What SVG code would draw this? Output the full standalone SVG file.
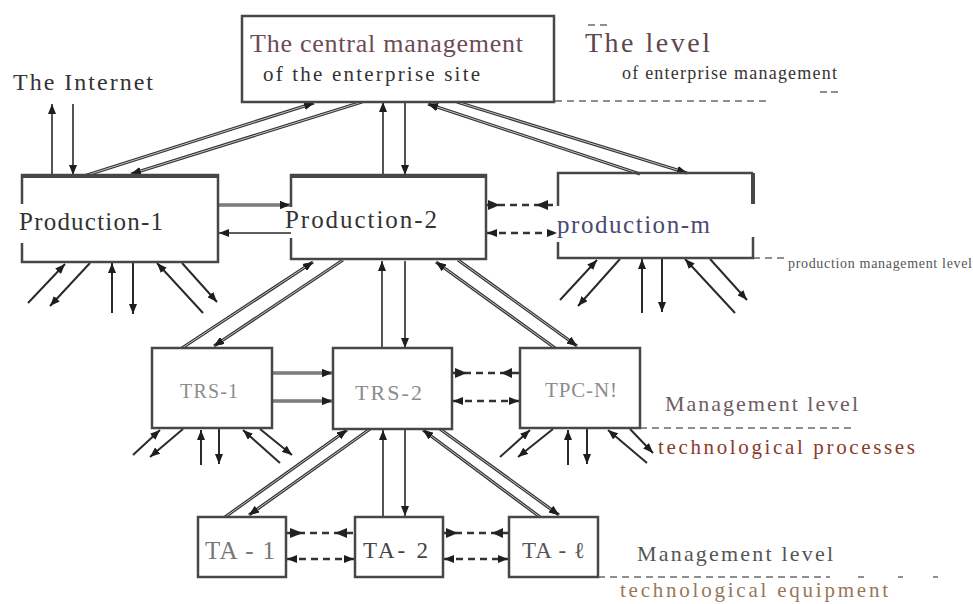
<svg xmlns="http://www.w3.org/2000/svg" width="973" height="604" viewBox="0 0 973 604">
<defs>
<style>
text{font-family:"Liberation Serif","Times New Roman",serif;}
.bg{fill:#fff;stroke:none;}
.bx{fill:none;stroke:#474747;stroke-width:2.5;}
.bxt{fill:none;stroke:#474747;stroke-width:4;}
.band path{fill:none;stroke:#333;stroke-width:3.2;marker-end:url(#ah);}
.bandin path{fill:none;stroke:#d8d8d8;stroke-width:0.9;marker-end:url(#ah);}
.ln path{fill:none;stroke:#2a2a2a;stroke-width:1.6;marker-end:url(#ah);}
.fan path{fill:none;stroke:#2a2a2a;stroke-width:2;marker-end:url(#ah);}
.dl{fill:none;stroke:#333;stroke-width:2.5;stroke-dasharray:7 5;}
.dl2{fill:none;stroke:#333;stroke-width:2.5;stroke-dasharray:7 5;marker-start:url(#ah);marker-end:url(#ah);}
.hd{fill:#222;}
.lv{fill:none;stroke:#8f8f8f;stroke-width:2;stroke-dasharray:7 5;}
</style>
<marker id="ah" viewBox="0 0 10 8" refX="10" refY="4" markerWidth="10" markerHeight="8" orient="auto-start-reverse" markerUnits="userSpaceOnUse"><path d="M0,0L10,4L0,8z" fill="#1e1e1e"/></marker>
</defs>
<rect width="973" height="604" fill="#fff"/>

<g id="levels">
<path class="lv" d="M555,101 L767,101"/>
<path class="lv" d="M588,25 L597,25 M600,25 L608,25"/>
<path class="lv" d="M820,92 L827,92 M831,92 L838,92"/>
<path class="lv" d="M753,258 L786,258"/>
<path class="lv" d="M640,428 L852,428"/>
<path class="lv" d="M598,577 L830,577 M858,577 L864,577 M898,577 L903,577 M933,577 L938,577"/>
<text x="585" y="52" font-size="28" textLength="125" fill="#5e474e">The level</text>
<text x="622" y="79" font-size="18" textLength="215" fill="#333">of enterprise management</text>
<text x="788" y="268" font-size="14" textLength="184" fill="#555">production management level</text>
<text x="665" y="411" font-size="22" textLength="193" fill="#6e5c60">Management level</text>
<text x="658" y="454" font-size="21" textLength="257" fill="#8a3b2a">technological processes</text>
<text x="637" y="561" font-size="22" textLength="196" fill="#555">Management level</text>
<text x="620" y="597" font-size="21" textLength="268" fill="#9a7658">technological equipment</text>
</g>

<g id="internet">
<text x="13" y="90" font-size="24" textLength="140" fill="#333">The Internet</text>
</g>

<g id="connectors">
<g class="band">
<path d="M84,176 L314,103"/>
<path d="M362,102 L131,174"/>
<path d="M640,174 L428,104"/>
<path d="M457,102 L687,173"/>
<path d="M182,348 L313,262"/>
<path d="M343,260 L214,346"/>
<path d="M555,348 L436,262"/>
<path d="M458,260 L577,346"/>
<path d="M225,517 L347,430"/>
<path d="M370,429 L249,515"/>
<path d="M540,517 L423,430"/>
<path d="M440,429 L559,515"/>
<path d="M218,205 L290,205"/>
<path d="M272,373 L332,373"/>
<path d="M272,401 L332,401"/>
</g>
<g class="bandin">
<path d="M84,176 L314,103"/>
<path d="M362,102 L131,174"/>
<path d="M640,174 L428,104"/>
<path d="M457,102 L687,173"/>
<path d="M182,348 L313,262"/>
<path d="M343,260 L214,346"/>
<path d="M555,348 L436,262"/>
<path d="M458,260 L577,346"/>
<path d="M225,517 L347,430"/>
<path d="M370,429 L249,515"/>
<path d="M540,517 L423,430"/>
<path d="M440,429 L559,515"/>
<path d="M218,205 L290,205"/>
<path d="M272,373 L332,373"/>
<path d="M272,401 L332,401"/>
</g>
<g class="ln">
<path d="M52,175 L52,104"/>
<path d="M73,104 L73,175"/>
<path d="M383,175 L383,102"/>
<path d="M405,102 L405,175"/>
<path d="M291,233 L219,233"/>
<path d="M382,348 L382,261"/>
<path d="M405,261 L405,348"/>
<path d="M383,517 L383,430"/>
<path d="M405,430 L405,516"/>
</g>
<g class="fan">
<path d="M28,303 L65,264"/>
<path d="M90,263 L50,306"/>
<path d="M112,313 L112,263"/>
<path d="M133,263 L133,314"/>
<path d="M203,313 L157,263"/>
<path d="M182,263 L217,302"/>
<path d="M560,300 L597,260"/>
<path d="M620,259 L578,306"/>
<path d="M642,313 L642,259"/>
<path d="M662,259 L662,312"/>
<path d="M735,313 L685,259"/>
<path d="M710,259 L747,300"/>
<path d="M133,455 L160,430"/>
<path d="M183,429 L150,457"/>
<path d="M201,465 L201,430"/>
<path d="M219,429 L219,464"/>
<path d="M280,463 L243,430"/>
<path d="M260,429 L292,455"/>
<path d="M500,457 L530,430"/>
<path d="M553,429 L518,457"/>
<path d="M568,465 L568,430"/>
<path d="M587,429 L587,464"/>
<path d="M647,463 L608,430"/>
<path d="M630,429 L653,453"/>
</g>
<path class="dl" d="M486,205 L558,205"/>
<polygon class="hd" points="488,200 500,205 488,210"/>
<polygon class="hd" points="548,200 536,205 548,210"/>
<path class="dl2" d="M487,233 L557,233"/>
<path class="dl" d="M452,373 L520,373"/>
<polygon class="hd" points="455,368 467,373 455,378"/>
<polygon class="hd" points="512,368 501,373 512,378"/>
<path class="dl2" d="M453,401 L519,401"/>
<path class="dl" d="M286,533 L355,533"/>
<polygon class="hd" points="290,528 303,533 290,538"/>
<polygon class="hd" points="347,528 335,533 347,538"/>
<path class="dl2" d="M287,559 L354,559"/>
<path class="dl" d="M443,533 L509,533"/>
<polygon class="hd" points="446,528 458,533 446,538"/>
<polygon class="hd" points="503,528 492,533 503,538"/>
<path class="dl2" d="M444,559 L508,559"/>
</g>

<g id="central">
<rect class="bg" x="242" y="16" width="312" height="86"/>
<rect class="bx" x="242" y="16" width="312" height="86"/>
<text x="250" y="52" font-size="26" textLength="273" fill="#6e4b55">The central management</text>
<text x="263" y="81" font-size="21" textLength="217" fill="#333">of the enterprise site</text>
</g>

<g id="production-1">
<path class="bx" d="M22,204 L22,175 L218,175 L218,262 L22,262 L22,243"/>
<path class="bxt" d="M22,176 L218,176"/>
<text x="19" y="230" font-size="25" textLength="144" fill="#333">Production-1</text>
</g>

<g id="production-2">
<path class="bx" d="M291,207 L291,175 L486,175 L486,259 L291,259 L291,238"/>
<path class="bxt" d="M291,176 L486,176"/>
<text x="285" y="228" font-size="25" textLength="152" fill="#333">Production-2</text>
</g>

<g id="production-m">
<path class="bx" d="M558,206 L558,173 L753,173 M753,237 L753,258 L558,258 L558,242"/>
<path class="bxt" d="M753,173 L753,204"/>
<text x="557" y="233" font-size="25" textLength="153" fill="#4a4a70">production-m</text>
</g>

<g id="trs-1">
<rect class="bx" x="152" y="348" width="120" height="80"/>
<text x="180" y="398" font-size="20" textLength="58" fill="#8c8c8c">TRS-1</text>
</g>

<g id="trs-2">
<rect class="bx" x="333" y="348" width="119" height="81"/>
<text x="355" y="400" font-size="22" textLength="67" fill="#8c8c8c">TRS-2</text>
</g>

<g id="tpc-n">
<rect class="bx" x="520" y="348" width="120" height="80"/>
<text x="545" y="397" font-size="21" textLength="72" fill="#8c8c8c">TPC-N!</text>
</g>

<g id="ta-1">
<rect class="bx" x="198" y="517" width="88" height="60"/>
<text x="205" y="559" font-size="25" textLength="70" fill="#777">TA - 1</text>
</g>

<g id="ta-2">
<rect class="bx" x="355" y="517" width="88" height="60"/>
<text x="363" y="558" font-size="23" textLength="65" fill="#444">TA- 2</text>
</g>

<g id="ta-3">
<rect class="bx" x="509" y="517" width="89" height="60"/>
<text x="522" y="558" font-size="23" textLength="63" fill="#555">TA - ℓ</text>
</g>
</svg>
